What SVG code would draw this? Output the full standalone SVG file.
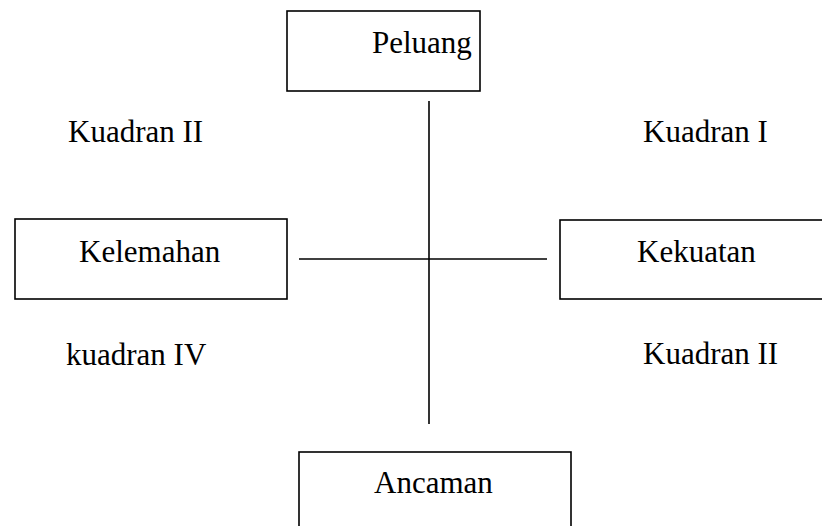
<svg xmlns="http://www.w3.org/2000/svg" width="822" height="526" viewBox="0 0 822 526">
<style>
.box{fill:#fff;stroke:#000;stroke-width:1.6}
.t{font-family:"Liberation Serif","Times New Roman",serif;font-size:31px;fill:#000}
.ln{stroke:#000;stroke-width:1.6;fill:none}
</style>
<rect width="822" height="526" fill="#fff"/>
<g id="connectors">
<line class="ln" x1="429" y1="101" x2="429" y2="424"/>
<line class="ln" x1="299" y1="259" x2="547" y2="259"/>
</g>
<g id="peluang"><rect class="box" x="287" y="11" width="193" height="80"/><text class="t" x="372" y="53">Peluang</text></g>
<g id="kelemahan"><rect class="box" x="15" y="219" width="272" height="80"/><text class="t" x="79" y="262">Kelemahan</text></g>
<g id="kekuatan"><rect class="box" x="560" y="220" width="270" height="79"/><text class="t" x="637" y="262">Kekuatan</text></g>
<g id="ancaman"><rect class="box" x="299" y="452" width="272" height="90"/><text class="t" x="374" y="493">Ancaman</text></g>
<g id="labels">
<text class="t" x="68" y="142">Kuadran II</text>
<text class="t" x="643" y="142">Kuadran I</text>
<text class="t" x="66" y="365">kuadran IV</text>
<text class="t" x="643" y="364">Kuadran II</text>
</g>
</svg>
